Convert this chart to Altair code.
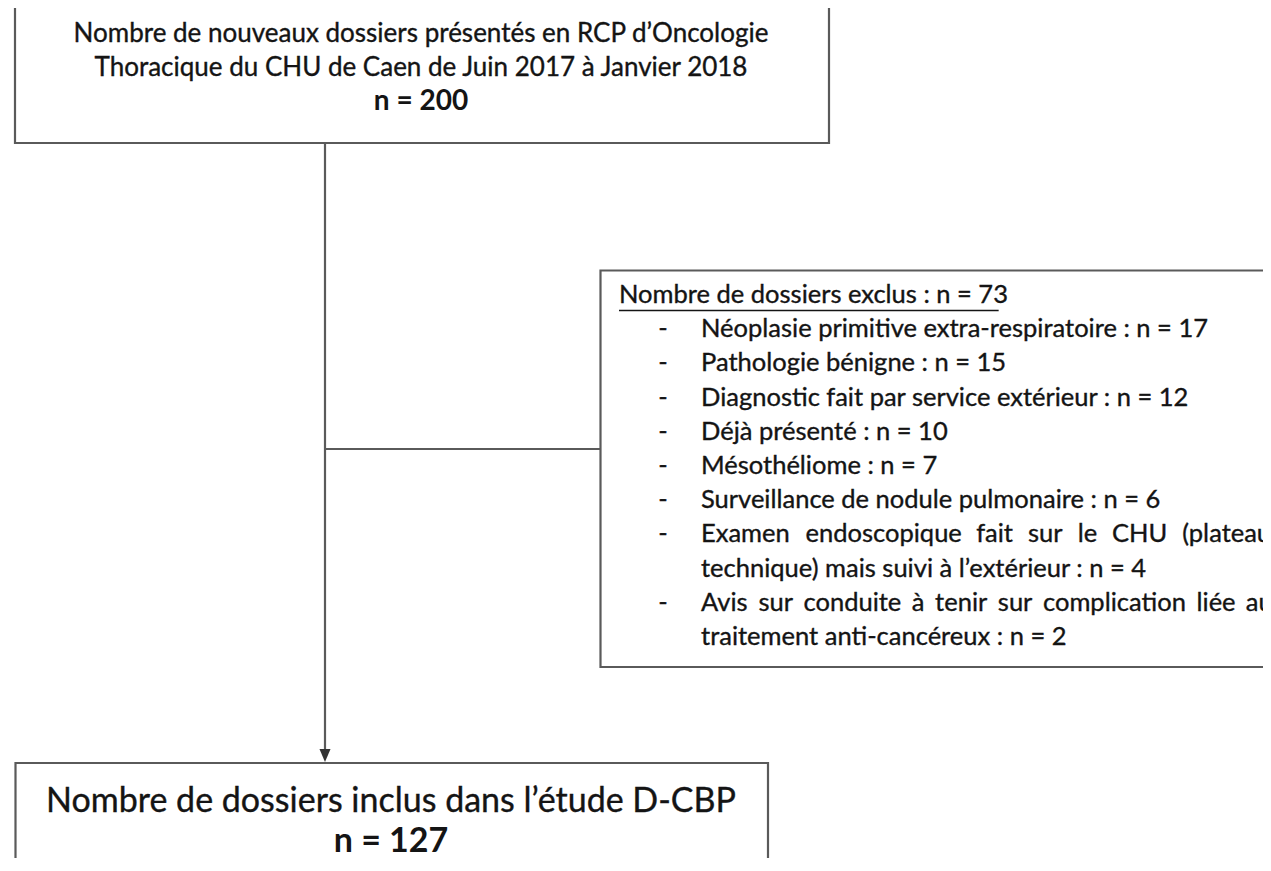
import altair as alt
import pandas as pd

# ---------------- data ----------------
top_lines = [
    "Nombre de nouveaux dossiers présentés en RCP d’Oncologie",
    "Thoracique du CHU de Caen de Juin 2017 à Janvier 2018",
]
top_n = 200

excl_title = "Nombre de dossiers exclus"
excl_n = 73
excl_labels = [
    "Néoplasie primitive extra-respiratoire",
    "Pathologie bénigne",
    "Diagnostic fait par service extérieur",
    "Déjà présenté",
    "Mésothéliome",
    "Surveillance de nodule pulmonaire",
    "Examen endoscopique fait sur le CHU (plateau technique) mais suivi à l’extérieur",
    "Avis sur conduite à tenir sur complication liée au traitement anti-cancéreux",
]
excl_counts = [17, 15, 12, 10, 7, 6, 4, 2]

incl_label = "Nombre de dossiers inclus dans l’étude D-CBP"
incl_n = 127

# ---------------- layout (page pixel coordinates) ----------------
FONT = "Lato"
TXT = "#141414"
LINE = "#5a5a5a"

top_box = dict(x=15, x2=829, y=7, y2=143)
excl_box = dict(x=600.5, x2=1300, y=270.5, y2=667)
incl_box = dict(x=15.5, x2=768, y=763, y2=900)

stem_x = 325
branch_y = 449
arrow_tip = 762

top_cx, top_base, top_step = 421, 41.5, 34
top_size, top_bold_size = 26, 28
incl_cx, incl_base, incl_step = 391, 812, 40
incl_size = 34
ex_title_x, ex_base, ex_step = 619, 303, 34.2
ex_size = 25.5
dash_x, item_x = 663, 701
col_right = 1273                   # right edge of the justified text column
wrap_words = {6: 7, 7: 9}          # words on the first (justified) line

# approximate Lato advance widths (em) used only to justify lines
_W = dict(a=.51, b=.56, c=.47, d=.56, e=.52, f=.33, g=.50, h=.56, i=.24, j=.24,
          k=.51, l=.24, m=.84, n=.56, o=.56, p=.56, q=.56, r=.37, s=.43, t=.36,
          u=.56, v=.51, w=.77, x=.50, y=.51, z=.45)
_W.update({"é": .52, "è": .52, "à": .51, "’": .22, "(": .30, ")": .30, " ": .19,
           ":": .25, "=": .58, "-": .35, "A": .66, "C": .67, "E": .58, "H": .76,
           "U": .73, "N": .74, "O": .80, "R": .62, "P": .60, "D": .74})


def est_w(s, size):
    return sum(_W.get(ch, .58) for ch in s) * size


# ---------------- build tables ----------------
boxes = pd.DataFrame([top_box, excl_box, incl_box])
rules = pd.DataFrame([
    dict(x=stem_x, x2=stem_x, y=143, y2=arrow_tip - 10),
    dict(x=stem_x, x2=excl_box["x"], y=branch_y, y2=branch_y),
])
arrow = pd.DataFrame([dict(x=stem_x, y=arrow_tip - 6.5)])

normal_rows, bold_rows = [], []
for i, t in enumerate(top_lines):
    normal_rows.append(dict(x=top_cx, y=top_base + i * top_step, t=t, s=top_size))
bold_rows.append(dict(x=top_cx, y=top_base + 2 * top_step, t=f"n = {top_n}", s=top_bold_size))
normal_rows.append(dict(x=incl_cx, y=incl_base, t=incl_label, s=incl_size))
bold_rows.append(dict(x=incl_cx, y=incl_base + incl_step, t=f"n = {incl_n}", s=incl_size))
centers_n = pd.DataFrame(normal_rows)
centers_b = pd.DataFrame(bold_rows)

left_rows = []
header = f"{excl_title} : n = {excl_n}"
left_rows.append(dict(x=ex_title_x, y=ex_base, t=header))
dash_rows = []
line = 1
for k, (lab, c) in enumerate(zip(excl_labels, excl_counts)):
    full = f"{lab} : n = {c}"
    y = ex_base + line * ex_step
    dash_rows.append(dict(x=dash_x, y=y, t="-"))
    if k in wrap_words:
        words = full.split(" ")
        n1 = wrap_words[k]
        first = words[:n1]
        widths = [est_w(wd, ex_size) for wd in first]
        gap = (col_right - item_x - sum(widths)) / (len(first) - 1)
        cx = item_x
        for wd, ww in zip(first, widths):
            left_rows.append(dict(x=cx, y=y, t=wd))
            cx += ww + gap
        line += 1
        left_rows.append(dict(x=item_x, y=ex_base + line * ex_step, t=" ".join(words[n1:])))
    else:
        left_rows.append(dict(x=item_x, y=y, t=full))
    line += 1
lefts = pd.DataFrame(left_rows)
dashes = pd.DataFrame(dash_rows)
ul_len = est_w(header, ex_size) + 2
underline = pd.DataFrame([dict(x=ex_title_x, x2=ex_title_x + ul_len, y=310.5, y2=310.5)])

# ---------------- scales ----------------
W, H = 1255, 850
xs = alt.Scale(domain=[8, 8 + W], nice=False, zero=False)
ys = alt.Scale(domain=[8, 8 + H], nice=False, zero=False, reverse=True)


def X(f):
    return alt.X(f, type="quantitative", scale=xs, axis=None)


def Y(f):
    return alt.Y(f, type="quantitative", scale=ys, axis=None)


box_layer = alt.Chart(boxes).mark_rect(
    fill="white", fillOpacity=0, stroke=LINE, strokeWidth=2.2, clip=True
).encode(x=X("x"), x2="x2", y=Y("y"), y2="y2")

rule_layer = alt.Chart(rules).mark_rule(color=LINE, strokeWidth=2.2, clip=True).encode(
    x=X("x"), x2="x2", y=Y("y"), y2="y2"
)

ul_layer = alt.Chart(underline).mark_rule(color=TXT, strokeWidth=1.6).encode(
    x=X("x"), x2="x2", y=Y("y"), y2="y2"
)

arrow_layer = alt.Chart(arrow).mark_point(
    shape="M-0.85,-1L0.85,-1L0,1Z", size=169, filled=True, color="#333333", opacity=1
).encode(x=X("x"), y=Y("y"))

center_n_layer = alt.Chart(centers_n).mark_text(
    font=FONT, align="center", baseline="alphabetic", color=TXT, clip=True,
    stroke=TXT, strokeWidth=0.35,
).encode(
    x=X("x"), y=Y("y"), text="t:N",
    size=alt.Size("s:Q", scale=None, legend=None),
)

center_b_layer = alt.Chart(centers_b).mark_text(
    font=FONT, fontWeight="bold", align="center", baseline="alphabetic", color=TXT, clip=True,
).encode(
    x=X("x"), y=Y("y"), text="t:N",
    size=alt.Size("s:Q", scale=None, legend=None),
)

left_layer = alt.Chart(lefts).mark_text(
    font=FONT, fontSize=ex_size, align="left", baseline="alphabetic", color=TXT, clip=True,
    stroke=TXT, strokeWidth=0.35,
).encode(x=X("x"), y=Y("y"), text="t:N")

dash_layer = alt.Chart(dashes).mark_text(
    font=FONT, fontSize=ex_size, align="center", baseline="alphabetic", color=TXT,
    stroke=TXT, strokeWidth=0.35,
).encode(x=X("x"), y=Y("y"), text="t:N")

chart = alt.layer(
    box_layer, rule_layer, arrow_layer, ul_layer,
    center_n_layer, center_b_layer, left_layer, dash_layer
).properties(
    width=W, height=H, padding=0, autosize=alt.AutoSizeParams(type="none"),
    background="white",
).configure_view(strokeWidth=0)

chart.save("out.html", embed_options={"renderer": "svg", "actions": False})
